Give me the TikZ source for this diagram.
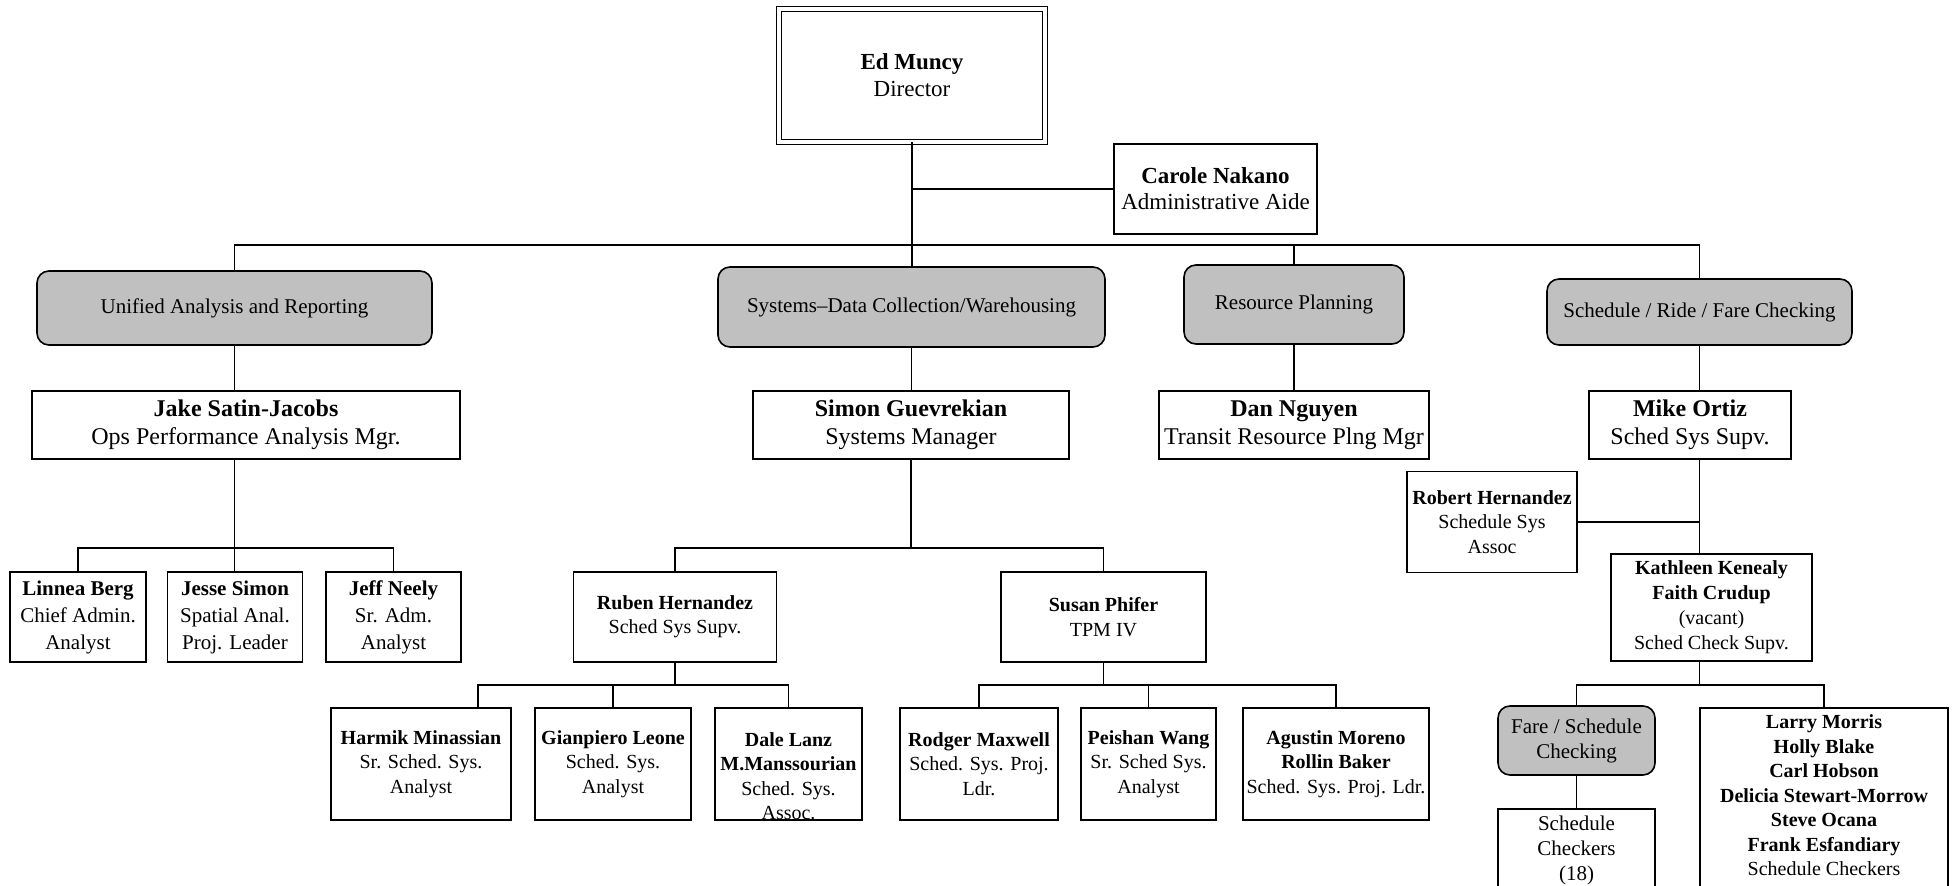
\documentclass[tikz,border=0pt]{standalone}
\usepackage{fontspec}
\setmainfont{Liberation Serif}
\usepackage{xcolor}
\usepackage{tikz}
\definecolor{unitgray}{HTML}{C0C0C0}

\begin{document}
\begin{tikzpicture}[x=0.5pt, y=-0.5pt,
  link/.style={line width=0.8pt},
  unit/.style={draw, fill=unitgray, line width=0.8pt, rounded corners=6pt, align=center, inner sep=1pt, font=\fontsize{10.5}{12.5}\selectfont},
  head/.style={draw, line width=0.8pt, align=center, inner sep=1pt, font=\fontsize{12}{14}\selectfont},
  staff/.style={draw, line width=0.8pt, align=center, inner sep=1pt, font=\fontsize{10}{12.2}\selectfont}]
  \useasboundingbox (0,0) rectangle (1959,886);

  \node[head, double, double distance=1.6pt, line width=0.5pt, minimum width=133pt, minimum height=66.5pt, font=\fontsize{11.5}{13.5}\selectfont] (director) at (912,75.5) {\textbf{Ed Muncy}\\Director};
  \node[head, minimum width=101.5pt, minimum height=45pt, font=\fontsize{11.5}{13}\selectfont] (carole) at (1215.5,189) {\textbf{Carole Nakano}\\Administrative Aide};

  \node[unit, minimum width=197.5pt, minimum height=37pt] (unified) at (234.5,308) {Unified Analysis and Reporting};
  \node[unit, minimum width=193.5pt, minimum height=40pt] (systems) at (911.5,307) {Systems–Data Collection/Warehousing};
  \node[unit, minimum width=110pt, minimum height=39.5pt] (resource) at (1294,304.5) {Resource Planning};
  \node[unit, minimum width=152.5pt, minimum height=33pt] (schedride) at (1699.5,312) {Schedule / Ride / Fare Checking};

  \node[head, minimum width=214pt, minimum height=34pt] (jake) at (246,425) {\textbf{Jake Satin-Jacobs}\\Ops Performance Analysis Mgr.};
  \node[head, minimum width=158pt, minimum height=34pt] (simon) at (911,425) {\textbf{Simon Guevrekian}\\Systems Manager};
  \node[head, minimum width=135pt, minimum height=34pt] (dan) at (1294,425) {\textbf{Dan Nguyen}\\Transit Resource Plng Mgr};
  \node[head, minimum width=101pt, minimum height=34pt] (mike) at (1690,425) {\textbf{Mike Ortiz}\\Sched Sys Supv.};

  \node[staff, minimum width=68pt, minimum height=45pt, font=\fontsize{10.5}{13.5}\selectfont] (linnea) at (78,617) {\textbf{Linnea Berg}\\Chief Admin.\\Analyst};
  \node[staff, minimum width=67.5pt, minimum height=45pt, font=\fontsize{10.5}{13.5}\selectfont] (jesse) at (235,617) {\textbf{Jesse Simon}\\Spatial Anal.\\Proj. Leader};
  \node[staff, minimum width=67.5pt, minimum height=45pt, font=\fontsize{10.5}{13.5}\selectfont] (jeff) at (393.5,617) {\textbf{Jeff Neely}\\Sr. Adm.\\Analyst};

  \node[staff, minimum width=101.5pt, minimum height=45pt] (ruben) at (675,617) {\textbf{Ruben Hernandez}\\Sched Sys Supv.};
  \node[staff, minimum width=102.5pt, minimum height=45pt] (susan) at (1103.5,617) {\textbf{Susan Phifer}\\TPM IV};

  \node[staff, minimum width=90pt, minimum height=56pt] (harmik) at (421,764) {\textbf{Harmik Minassian}\\Sr. Sched. Sys.\\Analyst};
  \node[staff, minimum width=78pt, minimum height=56pt] (gianpiero) at (613,764) {\textbf{Gianpiero Leone}\\Sched. Sys.\\Analyst};
  \node[staff, minimum width=73.5pt, minimum height=56pt] (dale) at (788.5,764) {};
  \node[align=center, inner sep=0pt, font=\fontsize{10}{12.2}\selectfont] (daletext) at ([yshift=-6.1pt]dale.center) {\textbf{Dale Lanz}\\\textbf{M.Manssourian}\\Sched. Sys.\\Assoc.};
  \node[staff, minimum width=79pt, minimum height=56pt] (rodger) at (979,764) {\textbf{Rodger Maxwell}\\Sched. Sys. Proj.\\Ldr.};
  \node[staff, minimum width=67.5pt, minimum height=56pt] (peishan) at (1148.5,764) {\textbf{Peishan Wang}\\Sr. Sched Sys.\\Analyst};
  \node[staff, minimum width=93pt, minimum height=56pt] (agustin) at (1336,764) {\textbf{Agustin Moreno}\\\textbf{Rollin Baker}\\Sched. Sys. Proj. Ldr.};

  \node[staff, minimum width=85pt, minimum height=50.5pt] (robert) at (1492,522) {\textbf{Robert Hernandez}\\Schedule Sys\\Assoc};
  \node[staff, minimum width=100.5pt, minimum height=53.5pt, font=\fontsize{10}{12.5}\selectfont] (kathleen) at (1711.5,607.5) {\textbf{Kathleen Kenealy}\\\textbf{Faith Crudup}\\(vacant)\\Sched Check Supv.};
  \node[unit, minimum width=78.5pt, minimum height=34.5pt] (fare) at (1576.5,740.5) {Fare / Schedule\\Checking};
  \node[staff, anchor=north, minimum width=78.5pt, inner ysep=3.5pt, font=\fontsize{10.5}{12.5}\selectfont] (checkers) at (1576.5,808) {Schedule\\Checkers\\(18)\\\strut};
  \node[staff, anchor=north, minimum width=124pt, inner ysep=3.5pt, font=\fontsize{10}{12.25}\selectfont] (larry) at (1824,707) {\textbf{Larry Morris}\\\textbf{Holly Blake}\\\textbf{Carl Hobson}\\\textbf{Delicia Stewart-Morrow}\\\textbf{Steve Ocana}\\\textbf{Frank Esfandiary}\\Schedule Checkers\\\strut};

  \coordinate (bus) at (0,245);
  \coordinate (jbus) at (0,548);
  \coordinate (rbus) at (0,685);

  \draw[link] (director.south) -- (director.south |- systems.north);
  \draw[link] (carole.west) -- (carole.west -| director.south);
  \draw[link] (unified.north) |- (schedride.north |- bus) -- (schedride.north);
  \draw[link] (resource.north) -- (resource.north |- bus);
  \draw[link] (unified.south) -- (unified.south |- jake.north);
  \draw[link] (systems.south) -- (systems.south |- simon.north);
  \draw[link] (resource.south) -- (resource.south |- dan.north);
  \draw[link] (schedride.south) -- (schedride.south |- mike.north);

  \draw[link] (unified.south |- jake.south) -- (unified.south |- jesse.north);
  \draw[link] (linnea.north) |- (jeff.north |- jbus) -- (jeff.north);

  \draw[link] (simon.south) -- (simon.south |- jbus);
  \draw[link] (ruben.north) |- (susan.north |- jbus) -- (susan.north);

  \draw[link] (ruben.south) -- (ruben.south |- rbus);
  \draw[link] ([xshift=28.5pt]harmik.north) |- (dale.north |- rbus) -- (dale.north);
  \draw[link] (gianpiero.north) -- (gianpiero.north |- rbus);

  \draw[link] (susan.south) -- (susan.south |- rbus);
  \draw[link] (rodger.north) |- (agustin.north |- rbus) -- (agustin.north);
  \draw[link] (peishan.north) -- (peishan.north |- rbus);

  \draw[link] (schedride.south |- mike.south) -- (schedride.south |- kathleen.north);
  \draw[link] (robert.east) -- (robert.east -| schedride.south);
  \draw[link] (schedride.south |- kathleen.south) -- (schedride.south |- rbus);
  \draw[link] (fare.north) |- (larry.north |- rbus) -- (larry.north);
  \draw[link] (fare.south) -- (checkers.north);
\end{tikzpicture}
\end{document}
